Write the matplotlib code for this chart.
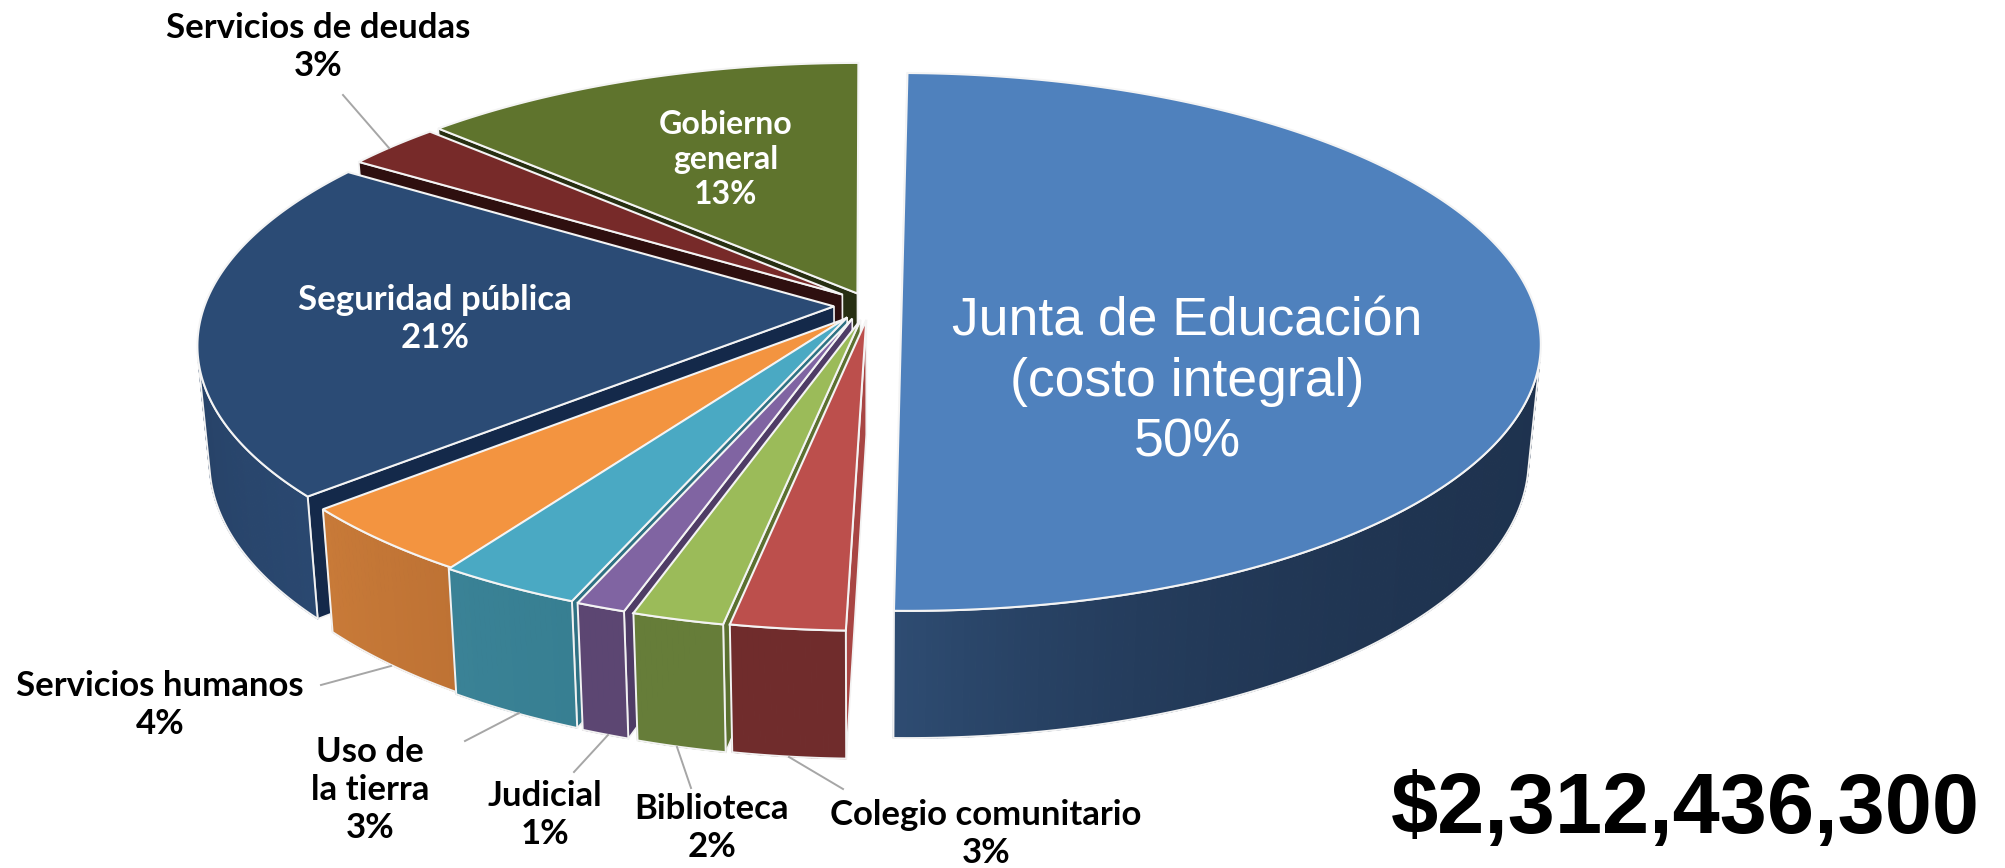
import numpy as np
import matplotlib
matplotlib.use('Agg')
import matplotlib.pyplot as plt
from matplotlib.collections import PolyCollection
from matplotlib.colors import to_rgb
from matplotlib.patches import Polygon

# Clockwise from 12 o'clock
names = ['Junta de Educación\n(costo integral)', 'Colegio comunitario', 'Biblioteca', 'Judicial',
         'Uso de\nla tierra', 'Servicios humanos', 'Seguridad pública', 'Servicios de deudas',
         'Gobierno\ngeneral']
# shares, the labels show them rounded
shares = [50, 2.97, 2.03, 1.1, 3.2, 4.3, 20.67, 2.8, 12.93]
total_label = '$2,312,436,300'

top_colors = ['#4F81BD', '#BC4F4C', '#9BBB59', '#8064A2', '#4AA9C3', '#F39440', '#2B4B75', '#772A29', '#5F742D']
wall_from = ['#1E324E', '#702C2C', '#667D39', '#5C4672', '#377F92', '#BE7234', '#2A4870', '#2E0F0F', '#272F12']
wall_to = ['#2E4C72', '#702C2C', '#667D39', '#5C4672', '#3A8296', '#C87A38', '#22395A', '#2E0F0F', '#272F12']
side_colors = ['#2E4C72', '#A84543', '#5B7030', '#4F3C66', '#2F7183', '#A9652C', '#14294A', '#2E0F0F', '#272F12']
wall_gamma = [8, 1, 1, 1, 1, 1, 1, 1, 1]

# Exploded offsets of each slice in the plane of the disc
off_x = [0.058, 0.002, -0.007, -0.02, -0.028, -0.03, -0.049, -0.036, -0.012]
off_y = [0, -0.06, -0.06, -0.055, -0.05, -0.055, -0.009, 0.036, 0.04]
radius = [1.0, 0.995, 0.995, 0.995, 0.995, 0.985, 0.995, 0.995, 1.01]
rot = [1.07, 0, 0, 0, 0, 0, 0, 0, 0]
trim = [0, 1.6, 0, 0, 0, 0, 0, 0, 0]

# Camera
cx, cy = 865, 304
rx, ry = 632, 263.6
persp = 0.141
shrink = 0.018
depth = 114


def project(x, y, z=0):
    w = 1 + persp * y
    sx = cx + (rx * x / w) * (1 - shrink * z)
    sy = cy - (ry * y / w) * (1 - shrink * z) + z * depth / w
    return sx, sy


def mix(c0, c1, t):
    return tuple((1 - t) * np.array(to_rgb(c0)) + t * np.array(to_rgb(c1)))


def edge_point(i, ang, z=0):
    a = np.radians(ang + rot[i])
    return project(off_x[i] + radius[i] * np.sin(a), off_y[i] + radius[i] * np.cos(a), z)


def faces_viewer(p0, p1, p1_low):
    cross = (p1[0] - p0[0]) * (p1_low[1] - p1[1]) - (p1[1] - p0[1]) * (p1_low[0] - p1[0])
    return cross < 0


def draw_slice(ax, i, a0, a1):
    a0 = a0 + trim[i]
    angs = np.linspace(a0, a1, int(a1 - a0) * 2 + 3)

    # radial wall on the side that can be seen
    apex = project(off_x[i], off_y[i])
    apex_low = project(off_x[i], off_y[i], 1)
    pts = [apex, edge_point(i, a0), edge_point(i, a0, 1), apex_low]
    ax.add_patch(Polygon(pts, closed=True, fc=side_colors[i], ec='#F2F2F2', lw=1.2))

    # outer wall, many small quads for the shading
    quads = []
    cols = []
    kept = []
    for j in range(len(angs) - 1):
        p0 = edge_point(i, angs[j])
        p1 = edge_point(i, angs[j + 1])
        p1_low = edge_point(i, angs[j + 1], 1)
        if faces_viewer(p0, p1, p1_low):
            quads.append([p0, p1, p1_low, edge_point(i, angs[j], 1)])
            cols.append(mix(wall_from[i], wall_to[i], (j / (len(angs) - 2)) ** wall_gamma[i]))
            kept += [angs[j], angs[j + 1]]
    if quads:
        ax.add_collection(PolyCollection(quads, facecolors=cols, edgecolors=cols, linewidths=0.9))
        kept = sorted(set(kept))
        outline = [edge_point(i, a, 0) for a in kept] + [edge_point(i, a, 1) for a in kept[::-1]]
        ax.add_patch(Polygon(outline, closed=True, fill=False, ec='#F2F2F2', lw=1.4))

    # top
    pts = [apex] + [edge_point(i, a) for a in angs]
    ax.add_patch(Polygon(pts, closed=True, fc=top_colors[i], ec='#F4F4F4', lw=1.5, joinstyle='miter'))


fig = plt.figure(figsize=(20.06, 8.68), dpi=100)
ax = fig.add_axes([0, 0, 1, 1])
ax.set_xlim(0, 2006)
ax.set_ylim(868, 0)
ax.axis('off')

edges = np.concatenate(([0], np.cumsum(shares))) * 360 / sum(shares)

# back to front
for i in [8, 7, 6, 5, 4, 3, 2, 1, 0]:
    draw_slice(ax, i, edges[i], edges[i + 1])

# leader lines
leaders = {7: ((343, 95), (389, 148)), 5: ((321, 685), (391, 666)), 4: ((465, 741), (519, 713)),
           3: ((574, 772), (608, 735)), 2: ((691, 788), (677, 747)), 1: ((843, 789), (789, 757))}
for k, (p0, p1) in leaders.items():
    ax.plot([p0[0], p1[0]], [p0[1], p1[1]], color='#A6A6A6', lw=1.4)

# labels
label_x = [1187, 986, 712, 545, 370, 160, 435, 318, 726]
label_y = [382, 834, 828, 815, 790, 705, 319, 47, 159]
label_c = ['white', 'black', 'black', 'black', 'black', 'black', 'white', 'black', 'white']
label_s = [38.5, 25, 25, 25, 25, 25, 25, 25, 23]
for i in range(len(names)):
    txt = names[i] + '\n' + str(round(shares[i])) + '%'
    if i == 0:
        ax.text(label_x[i], label_y[i], txt, color=label_c[i], ha='center', va='center',
                family='Liberation Sans', fontsize=label_s[i], linespacing=1.27)
    else:
        ax.text(label_x[i], label_y[i], txt, color=label_c[i], ha='center', va='center',
                family='Lato', fontweight='bold', fontsize=label_s[i], linespacing=1.25)

ax.text(1685, 811, total_label, color='black', ha='center', va='center',
        family='Liberation Sans', fontweight='bold', fontsize=61)

fig.savefig('out.png', dpi=100)
